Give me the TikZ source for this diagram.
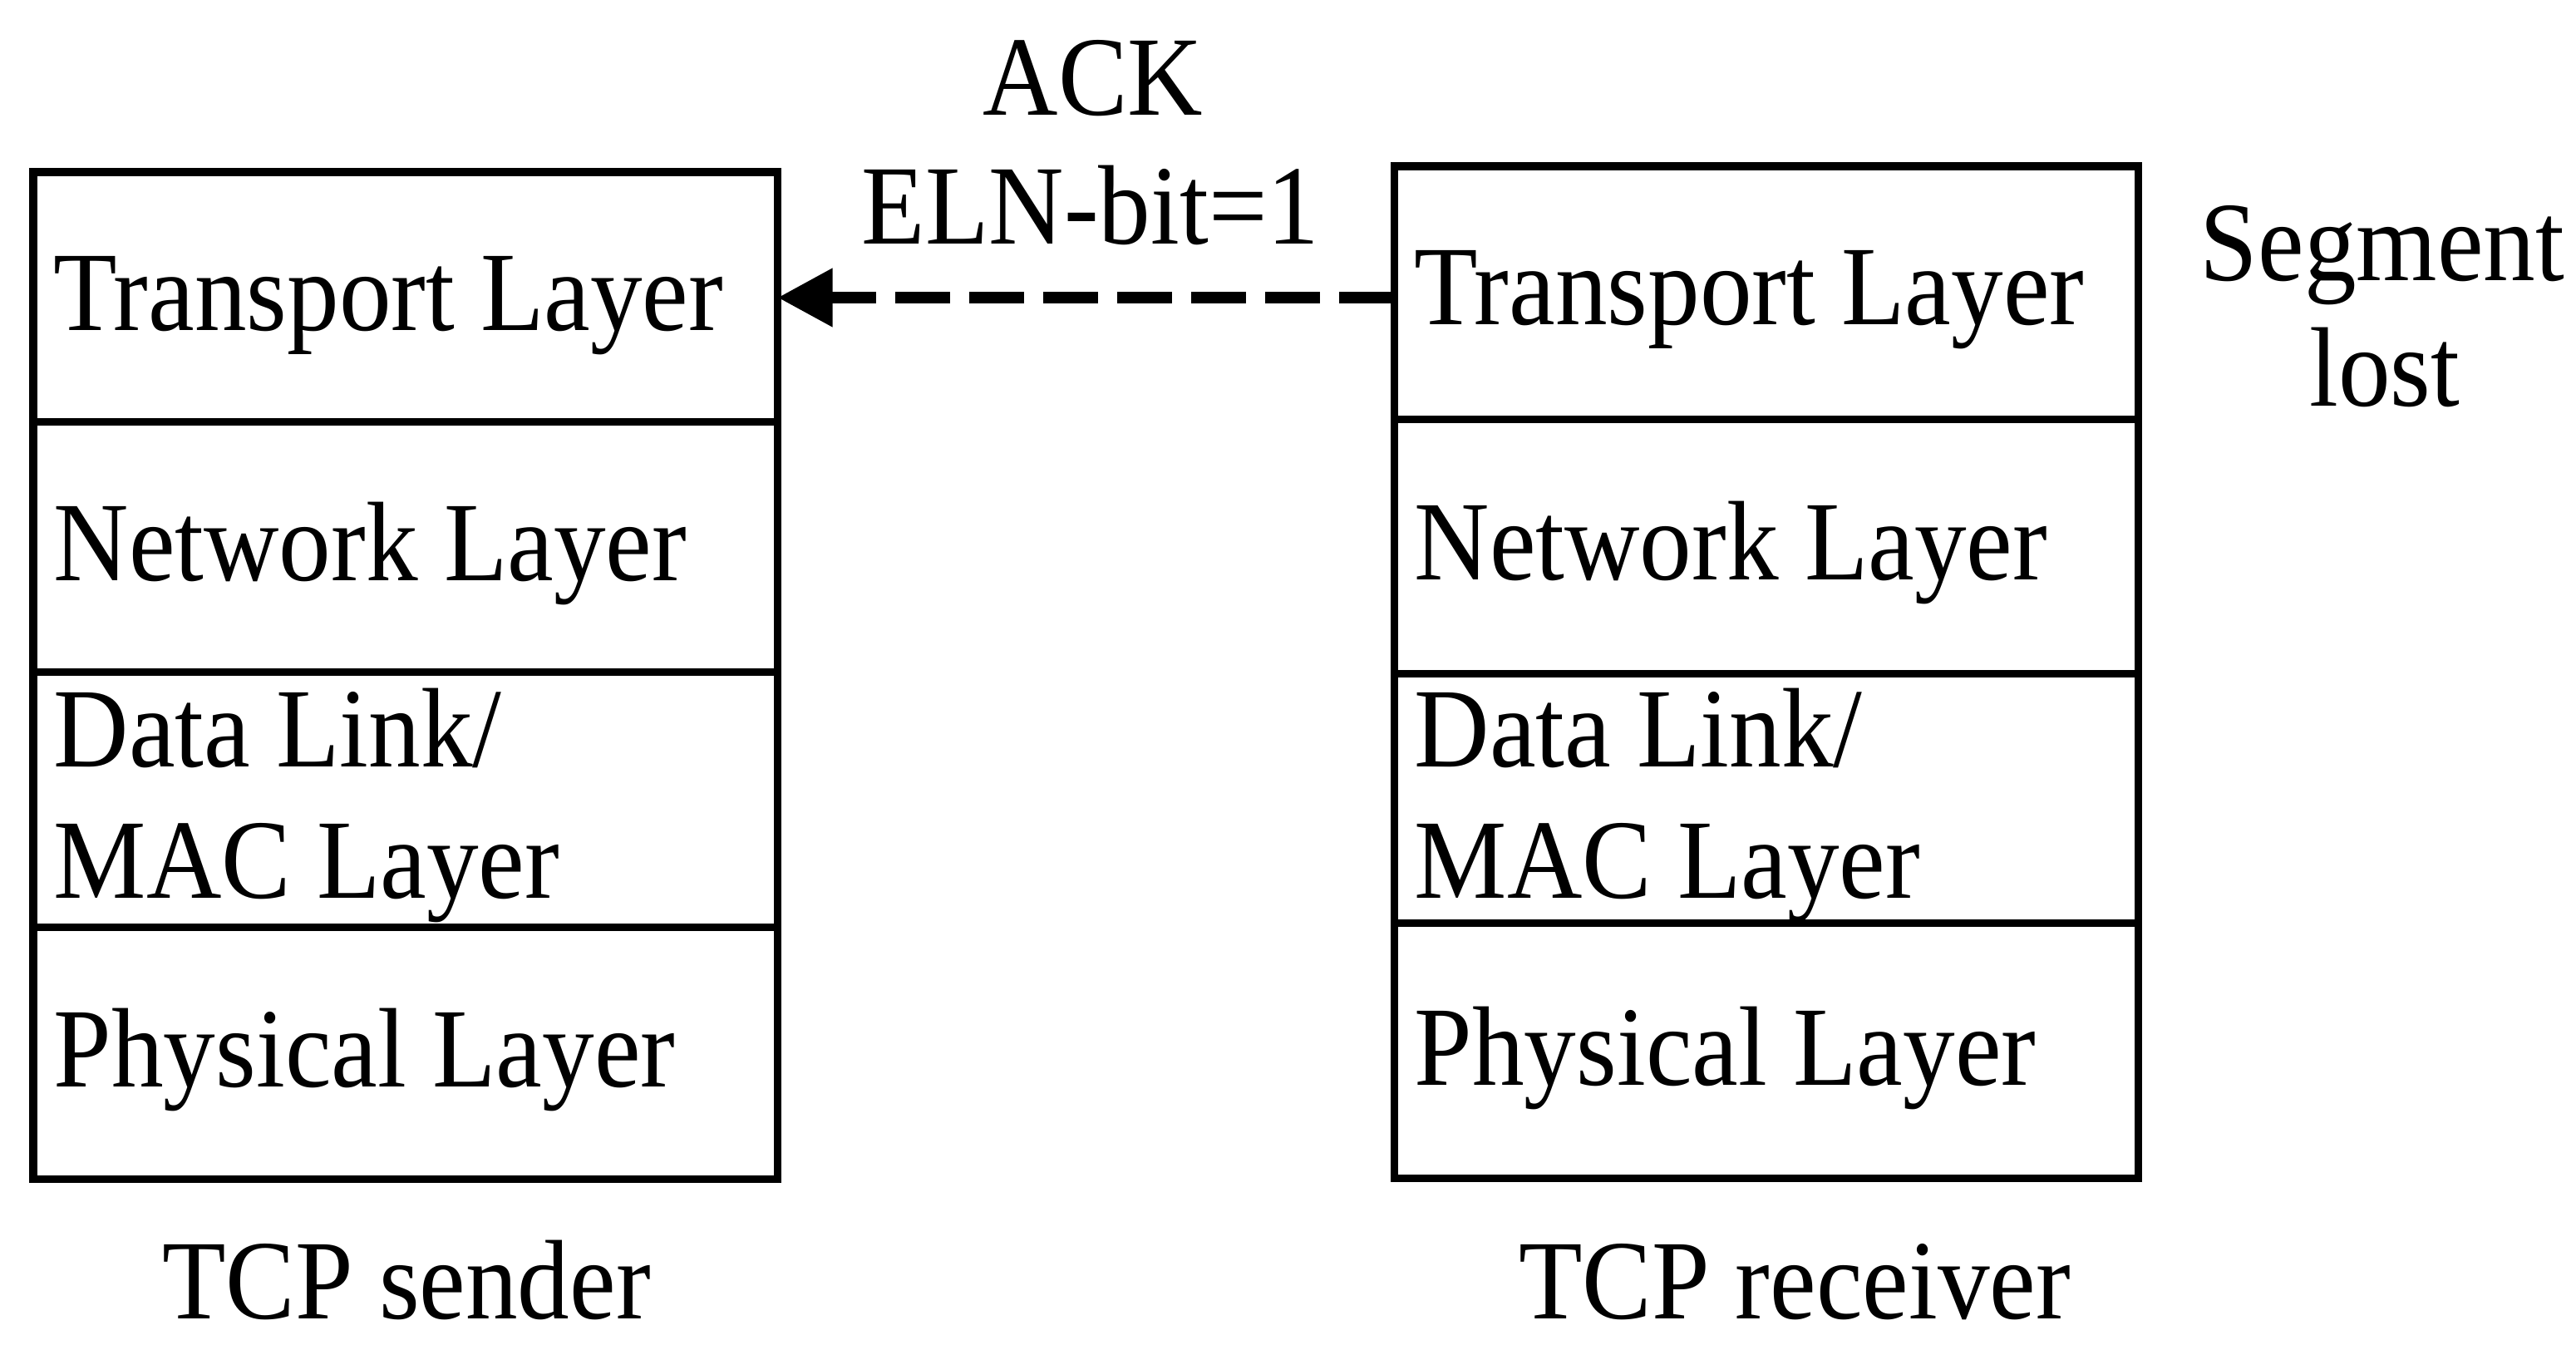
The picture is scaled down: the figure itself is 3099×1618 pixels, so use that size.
\documentclass[tikz,border=0pt]{standalone}
\usepackage{fontspec}
\setmainfont{Liberation Serif}[FakeStretch=0.92]
\usetikzlibrary{arrows.meta}
\newcommand{\layerfont}{\fontsize{38.7pt}{44pt}\selectfont}
\begin{document}
\begin{tikzpicture}[x=0.01cm,y=-0.01cm,
  cell/.style={draw,line width=0.09cm,minimum width=8.95cm,anchor=north west,
               inner sep=0pt,outer sep=0pt},
  lbl/.style={anchor=base west,inner sep=0pt,font=\layerfont},
  caption/.style={anchor=base,inner sep=0pt,font=\layerfont},
  ack/.style={line width=0.14cm,line cap=butt,dash pattern=on 0.66cm off 0.23cm,
              -{Triangle[length=0.66cm,width=0.67cm]}}]
  \useasboundingbox (0,0) rectangle (3099,1618);

  % sender protocol stack
  \node[cell,minimum height=3.00cm] (lt) at (40,207)  {};
  \node[cell,minimum height=3.01cm] (ln) at (40,507)  {};
  \node[cell,minimum height=3.07cm] (ld) at (40,808)  {};
  \node[cell,minimum height=3.03cm] (lp) at (40,1115) {};
  \node[lbl] (ltx)  at (64,397)  {Transport Layer};
  \node[lbl] (lnx)  at (64,698)  {Network Layer};
  \node[lbl] (ldx1) at (64,922)  {Data Link/};
  \node[lbl] (ldx2) at (64,1080) {MAC Layer};
  \node[lbl] (lpx)  at (64,1307) {Physical Layer};

  % receiver protocol stack
  \node[cell,minimum height=3.04cm] (rt) at (1677,200)  {};
  \node[cell,minimum height=3.06cm] (rn) at (1677,504)  {};
  \node[cell,minimum height=3.00cm] (rd) at (1677,810)  {};
  \node[cell,minimum height=3.07cm] (rp) at (1677,1110) {};
  \node[lbl] (rtx)  at (1701,390)  {Transport Layer};
  \node[lbl] (rnx)  at (1701,697)  {Network Layer};
  \node[lbl] (rdx1) at (1701,922)  {Data Link/};
  \node[lbl] (rdx2) at (1701,1080) {MAC Layer};
  \node[lbl] (rpx)  at (1701,1305) {Physical Layer};

  % ACK sent back from receiver to sender
  \coordinate (ay) at (0,358);
  \draw[ack] (rt.west |- ay) -- (lt.east |- ay);
  \node[caption] (ack1) at (1315,138) {ACK};
  \node[caption] (ack2) at (1312,293) {ELN-bit=1};

  % loss note and stack captions
  \node[caption] (seg1) at (2866,337) {Segment};
  \node[caption] (seg2) at (2869,488) {lost};
  \node[caption] (snd) at (489,1586)  {TCP sender};
  \node[caption] (rcv) at (2159,1586) {TCP receiver};
\end{tikzpicture}
\end{document}
